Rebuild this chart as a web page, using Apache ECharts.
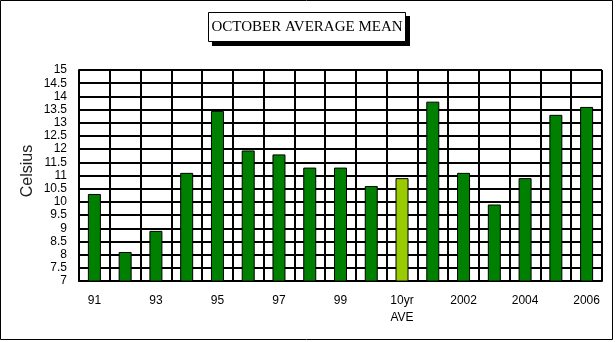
<!DOCTYPE html>
<html>
<head>
<meta charset="utf-8">
<script src="https://cdn.jsdelivr.net/npm/echarts@6/dist/echarts.min.js"></script>
<style>
  html, body { margin: 0; padding: 0; background: #fff; }
  #chart { width: 616px; height: 342px; }
</style>
</head>
<body>
<div id="chart"></div>
<script>
// October mean temperature per year, plus the ten-year average
const categories = ['91', '92', '93', '94', '95', '96', '97', '98', '99', '2000',
                    '10yr\nAVE', '2001', '2002', '2003', '2004', '2005', '2006'];
const meanTemps = [10.3, 8.1, 8.9, 11.1, 13.45, 11.95, 11.8, 11.3, 11.3, 10.6,
                   10.9, 13.8, 11.1, 9.9, 10.9, 13.3, 13.6];
const averageLabel = '10yr\nAVE';
const chartTitle = 'OCTOBER AVERAGE MEAN';
const unitName = 'Celsius';
const yMin = 7, yMax = 15, yStep = 0.5;

const yearColor = '#008000';
const averageColor = '#99cc00';

const chart = echarts.init(document.getElementById('chart'), null, { renderer: 'canvas' });

chart.setOption({
  animation: false,
  backgroundColor: '#fff',
  graphic: [
    // outer frame
    {
      type: 'rect',
      shape: { x: 0.5, y: 0.5, width: 612, height: 339 },
      style: { fill: null, stroke: '#000', lineWidth: 1 },
      silent: true, z: 100
    },
    // title box drop shadow
    {
      type: 'rect',
      shape: { x: 212, y: 16, width: 198, height: 30 },
      style: { fill: '#000' },
      silent: true, z: 10
    },
    // title box
    {
      type: 'rect',
      shape: { x: 208.5, y: 12.5, width: 197, height: 29 },
      style: { fill: '#fff', stroke: '#000', lineWidth: 1 },
      silent: true, z: 11
    },
    {
      type: 'text',
      x: 307, y: 27,
      style: {
        text: chartTitle,
        fill: '#000',
        font: '15px "Liberation Serif"',
        textAlign: 'center',
        textVerticalAlign: 'middle'
      },
      silent: true, z: 12
    },
    // y-axis unit, reading upward
    {
      type: 'text',
      x: 28, y: 171,
      rotation: Math.PI / 2,
      style: {
        text: unitName,
        fill: '#222',
        font: '16px "Liberation Sans"',
        textAlign: 'center',
        textVerticalAlign: 'middle'
      },
      silent: true, z: 12
    }
  ],
  grid: { left: 79, top: 70, width: 523, height: 211, containLabel: false },
  xAxis: {
    type: 'category',
    data: categories,
    boundaryGap: true,
    axisLine: { show: true, lineStyle: { color: '#000', width: 2 } },
    axisTick: { show: true, inside: true, alignWithLabel: true, interval: 0, length: 3, lineStyle: { color: '#000', width: 1 } },
    axisLabel: {
      interval: 1,
      margin: 11,
      fontFamily: 'Liberation Sans',
      fontSize: 12,
      lineHeight: 17,
      color: '#000'
    },
    splitLine: { show: true, interval: 0, lineStyle: { color: '#000', width: 2 } }
  },
  yAxis: {
    type: 'value',
    min: yMin,
    max: yMax,
    interval: yStep,
    axisLine: { show: true, lineStyle: { color: '#000', width: 2 } },
    axisTick: { show: false },
    axisLabel: {
      margin: 12,
      fontFamily: 'Liberation Sans',
      fontSize: 12,
      color: '#000'
    },
    splitLine: { show: true, lineStyle: { color: '#000', width: 2 } }
  },
  series: [{
    type: 'bar',
    barWidth: 13,
    data: meanTemps.map((v, i) => ({
      value: v,
      itemStyle: { color: categories[i] === averageLabel ? averageColor : yearColor }
    })),
    itemStyle: { borderColor: '#000', borderWidth: 1 }
  }]
});
</script>
</body>
</html>
